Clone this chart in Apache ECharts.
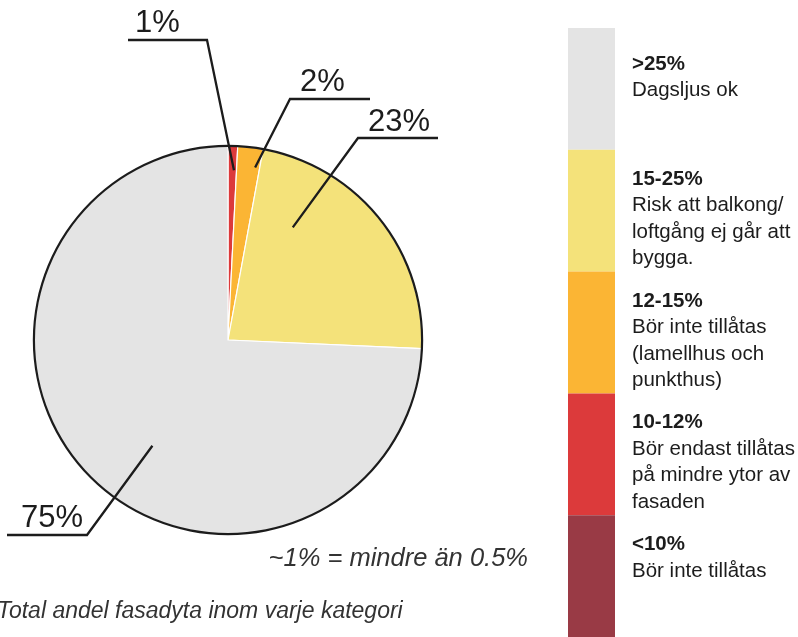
<!DOCTYPE html>
<html>
<head>
<meta charset="utf-8">
<script src="https://cdn.jsdelivr.net/npm/echarts@6/dist/echarts.min.js"></script>
<style>
html,body{margin:0;padding:0;background:#fff;}
#c{width:798px;height:637px;}
</style>
</head>
<body>
<div id="c"></div>
<script>
// ---- data ----
const classes = ['>25%', '15-25%', '12-15%', '10-12%', '<10%'];
const descriptions = [
  'Dagsljus ok',
  'Risk att balkong/\nloftgång ej går att\nbygga.',
  'Bör inte tillåtas\n(lamellhus och\npunkthus)',
  'Bör endast tillåtas\npå mindre ytor av\nfasaden',
  'Bör inte tillåtas'
];
const shares = [74.3, 22.8, 2.1, 0.8, 0];          // % of facade area per class
const shareLabels = ['75%', '23%', '2%', '1%', ''];
const legendSpan = [1, 1, 1, 1, 1];
const pieOrder = [3, 2, 1, 0];                       // clockwise from 12 o'clock
const footnote = '~1% = mindre än 0.5%';
const caption = 'Total andel fasadyta inom varje kategori';

// ---- style / layout ----
const colors = ['#e4e4e4', '#f4e27a', '#fbb534', '#dc3a3b', '#993a45'];
const FONT = "'Liberation Sans', Arial, Helvetica, sans-serif";
const INK = '#1c1c1c';
const CX = 228, CY = 340, R = 194;
// leader geometry: t = fraction along slice angle, k = fraction of radius,
// bend = underline end near pie, end = far end x of underline, tx/ty = text anchor
const leader = {
  3: { t: 0.7,  k: 0.876, bend: [207, 40],  end: 128, tx: 135, ty: 23 },
  2: { t: 0.8,  k: 0.9,   bend: [290, 99],  end: 370, tx: 300, ty: 82 },
  1: { t: 0.237,k: 0.67,  bend: [358, 138], end: 438, tx: 368, ty: 122 },
  0: { t: 0.46, k: 0.67,  bend: [87, 535],  end: 7,   tx: 21,  ty: 518 }
};
const labelOffsets = [23, 16, 16, 16, 16];

const pieData = pieOrder.map(i => ({ value: shares[i], name: classes[i], itemStyle: { color: colors[i] } }));
const total = pieData.reduce((s, d) => s + d.value, 0);
const startAngles = [];
let acc = 0;
pieData.forEach(d => { startAngles.push(acc); acc += d.value / total * 360; });

const chart = echarts.init(document.getElementById('c'), null, { renderer: 'canvas' });

const barSeries = classes.map((c, i) => {
  const lines = descriptions[i].split('\n').map(l => '{n|' + l + '}').join('\n');
  return {
    type: 'bar', stack: 'legend', barWidth: '100%', silent: true,
    xAxisIndex: 0, yAxisIndex: 0,
    data: [legendSpan[i]],
    itemStyle: { color: colors[i] },
    label: {
      show: true, position: [64, labelOffsets[i]], align: 'left', verticalAlign: 'top',
      formatter: '{t|' + c + '}\n' + lines,
      rich: {
        t: { fontFamily: FONT, fontSize: 20.5, fontWeight: 'bold', color: INK, lineHeight: 26.5 },
        n: { fontFamily: FONT, fontSize: 20.5, color: INK, lineHeight: 26.5 }
      }
    }
  };
});

chart.setOption({
  animation: false,
  backgroundColor: '#ffffff',
  grid: [{ left: 568, top: 28, width: 47, height: 615 }],
  xAxis: [{ type: 'category', data: ['legend'], show: false }],
  yAxis: [{ type: 'value', min: 0, max: classes.length, inverse: true, show: false }],
  series: [
    {
      type: 'pie', center: [CX, CY], radius: R, startAngle: 90, clockwise: true,
      avoidLabelOverlap: false, silent: true, z: 2,
      data: pieData,
      itemStyle: { borderColor: '#ffffff', borderWidth: 1.2 },
      label: { show: false }, labelLine: { show: false }
    },
    {
      type: 'pie', center: [CX, CY], radius: [R - 1, R + 1.2], silent: true, z: 3,
      label: { show: false }, labelLine: { show: false },
      data: [{ value: 1, itemStyle: { color: INK } }]
    },
    {
      // transparent overlay carrying the value labels and leader lines above the slices
      type: 'pie', center: [CX, CY], radius: R, startAngle: 90, clockwise: true,
      avoidLabelOverlap: false, silent: true, z: 4,
      data: pieData.map(d => ({ value: d.value, name: d.name })),
      itemStyle: { color: 'rgba(0,0,0,0)', borderWidth: 0 },
      label: {
        show: true, fontFamily: FONT, fontSize: 31, color: INK,
        formatter: p => shareLabels[pieOrder[p.dataIndex]]
      },
      labelLine: { show: true, showAbove: true, lineStyle: { color: INK, width: 2.3 } },
      labelLayout: function (p) {
        const ci = pieOrder[p.dataIndex];
        const L = leader[ci];
        const span = pieData[p.dataIndex].value / total * 360;
        const a = (startAngles[p.dataIndex] + L.t * span) * Math.PI / 180;
        const sx = CX + L.k * R * Math.sin(a);
        const sy = CY - L.k * R * Math.cos(a);
        return {
          x: L.tx, y: L.ty, align: 'left', verticalAlign: 'middle',
          labelLinePoints: [[sx, sy], [L.bend[0], L.bend[1]], [L.end, L.bend[1]]]
        };
      }
    }
  ].concat(barSeries),
  graphic: [
    { type: 'text', right: 798 - 528, top: 546,
      style: { text: footnote, font: 'italic 25.5px ' + FONT, fill: '#333' } },
    { type: 'text', left: -3, top: 600,
      style: { text: caption, font: 'italic 23px ' + FONT, fill: '#333' } }
  ]
});
</script>
</body>
</html>
